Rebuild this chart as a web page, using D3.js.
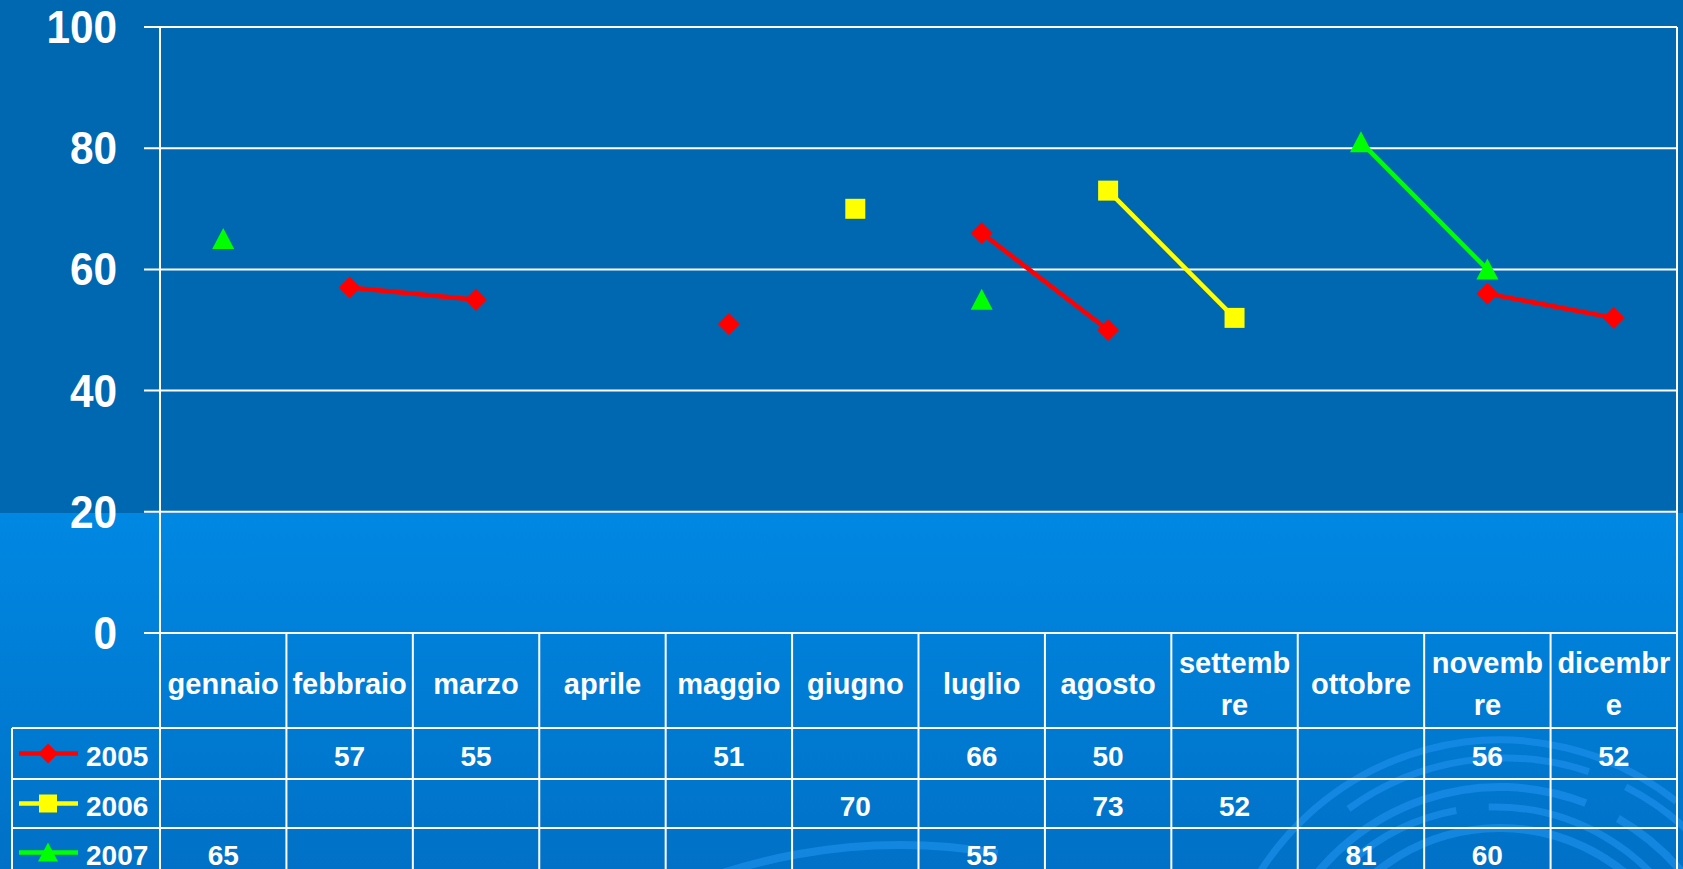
<!DOCTYPE html>
<html lang="it">
<head>
  <meta charset="UTF-8">
  <title>Grafico 2005-2007</title>
  <script src="https://cdn.jsdelivr.net/npm/d3@7"></script>
  <style>
    html, body { margin: 0; padding: 0; overflow: hidden; background: #0066b0; }
    text { font-family: "Liberation Sans", Arial, sans-serif; font-weight: bold; fill: #fff; }
  </style>
</head>
<body>
  <svg class="svg"></svg>
  <script>
    // data
    const months = ['gennaio', 'febbraio', 'marzo', 'aprile', 'maggio', 'giugno',
                    'luglio', 'agosto', 'settembre', 'ottobre', 'novembre', 'dicembre'];
    const monthLines = [['gennaio'], ['febbraio'], ['marzo'], ['aprile'], ['maggio'], ['giugno'],
                        ['luglio'], ['agosto'], ['settemb', 're'], ['ottobre'], ['novemb', 're'], ['dicembr', 'e']];
    const years = ['2005', '2006', '2007'];
    const v2005 = [null, 57, 55, null, 51, null, 66, 50, null, null, 56, 52];
    const v2006 = [null, null, null, null, null, 70, null, 73, 52, null, null, null];
    const v2007 = [65, null, null, null, null, null, 55, null, null, 81, 60, null];
    const yTicks = [0, 20, 40, 60, 80, 100];

    const seriesColors = ['#ff0000', '#ffff00', '#00ff00'];
    const seriesShapes = ['diamond', 'square', 'triangle'];

    const w = 1683;
    const h = 869;
    const plotL = 160, plotR = 1677, plotT = 27, plotB = 633;
    const rowEdges = [633, 728, 779, 828, 877];
    const legendL = 12;

    const svg = d3.select('.svg')
      .attr('width', w)
      .attr('height', h);

    // background: darker band on top, lighter lower part
    const defs = svg.append('defs');
    const grad = defs.append('linearGradient')
      .attr('id', 'lower').attr('x1', 0).attr('y1', 0).attr('x2', 0).attr('y2', 1);
    grad.append('stop').attr('offset', '0%').attr('stop-color', '#0088e3');
    grad.append('stop').attr('offset', '100%').attr('stop-color', '#0071c6');

    svg.append('rect').attr('width', w).attr('height', 513).attr('fill', '#0067b1');
    svg.append('rect').attr('y', 513).attr('width', w).attr('height', h - 513).attr('fill', 'url(#lower)');

    // swirl decoration, bottom right
    const swirl = svg.append('g').attr('fill', 'none').attr('stroke', '#1b8fea').attr('stroke-opacity', 0.7);
    const arcs = [
      [1500, 1024, 284, -2.75, -0.9, 7],
      [1500, 1024, 284, -0.8, -0.25, 7],
      [1505, 1024, 266, -2.2, -1.25, 7],
      [1505, 1024, 266, -1.1, -0.4, 7],
      [1500, 1024, 237, -2.6, -1.2, 8],
      [1500, 1024, 237, -1.05, -0.35, 8],
      [1495, 1024, 217, -2.3, -1.75, 7],
      [1495, 1024, 217, -1.6, -0.5, 7],
      [1500, 1024, 196, -2.7, -0.6, 8],
      [900, 1420, 575, -2.1, -1.4, 8]
    ];
    arcs.forEach(([cx, cy, r, a0, a1, sw]) => {
      const p = d3.path();
      p.arc(cx, cy, r, a0, a1);
      swirl.append('path').attr('d', p.toString()).attr('stroke-width', sw);
    });

    const xScale = d3.scaleBand().domain(months).range([plotL, plotR]);
    const yScale = d3.scaleLinear().domain([0, 100]).range([plotB, plotT]);

    // gridlines + ticks
    svg.append('g').selectAll('line')
      .data(yTicks)
      .enter()
      .append('line')
      .attr('x1', plotL - 16).attr('x2', plotR)
      .attr('y1', (d) => yScale(d)).attr('y2', (d) => yScale(d))
      .attr('stroke', '#fff').attr('stroke-width', 2);

    svg.append('g').selectAll('text')
      .data(yTicks)
      .enter()
      .append('text')
      .attr('transform', (d) => 'translate(117,' + (yScale(d) + 16) + ') scale(0.9,1)')
      .attr('text-anchor', 'end')
      .attr('font-size', 47)
      .text((d) => d);

    // vertical borders
    svg.append('line').attr('x1', plotL).attr('x2', plotL).attr('y1', plotT).attr('y2', h)
      .attr('stroke', '#fff').attr('stroke-width', 2);
    svg.append('line').attr('x1', plotR).attr('x2', plotR).attr('y1', plotT).attr('y2', h)
      .attr('stroke', '#fff').attr('stroke-width', 2);

    // data table grid
    const table = svg.append('g').attr('stroke', '#fff').attr('stroke-width', 2);
    table.selectAll('.col')
      .data(months.slice(1))
      .enter()
      .append('line')
      .attr('x1', (d) => xScale(d)).attr('x2', (d) => xScale(d))
      .attr('y1', plotB).attr('y2', h);
    table.selectAll('.row')
      .data(rowEdges.slice(1, 4))
      .enter()
      .append('line')
      .attr('x1', legendL).attr('x2', plotR)
      .attr('y1', (d) => d).attr('y2', (d) => d);
    table.append('line').attr('x1', legendL).attr('x2', legendL)
      .attr('y1', rowEdges[1]).attr('y2', h);

    // month labels
    const headMid = (rowEdges[0] + rowEdges[1]) / 2;
    const cats = svg.append('g').selectAll('text')
      .data(monthLines)
      .enter()
      .append('text')
      .attr('text-anchor', 'middle')
      .attr('font-size', 29);
    cats.selectAll('tspan')
      .data((d, i) => d.map((s, j) => ({ s, j, n: d.length, m: months[i] })))
      .enter()
      .append('tspan')
      .attr('x', (d) => xScale(d.m) + xScale.bandwidth() / 2)
      .attr('y', (d) => headMid + 13 + (d.n === 1 ? 0 : (d.j === 0 ? -21 : 21)))
      .text((d) => d.s);

    function marker(shape, s) {
      if (shape === 'diamond') return `M0,${-s}L${s},0L0,${s}L${-s},0Z`;
      if (shape === 'square') return `M${-s + 1},${-s + 1}H${s - 1}V${s - 1}H${-s + 1}Z`;
      return `M0,${-s}L${s},${s - 1}L${-s},${s - 1}Z`;
    }

    const seriesValues = [v2005, v2006, v2007];
    const line = d3.line()
      .defined((d) => d.v !== null)
      .x((d) => xScale(d.m) + xScale.bandwidth() / 2)
      .y((d) => yScale(d.v));

    seriesValues.forEach((vals, k) => {
      const pts = vals.map((v, i) => ({ v, m: months[i] }));
      const g = svg.append('g');
      g.append('path')
        .attr('d', line(pts))
        .attr('fill', 'none')
        .attr('stroke', seriesColors[k])
        .attr('stroke-width', 4.5);
      g.selectAll('path.mk')
        .data(pts.filter((d) => d.v !== null))
        .enter()
        .append('path')
        .attr('class', 'mk')
        .attr('transform', (d) => 'translate(' + (xScale(d.m) + xScale.bandwidth() / 2) + ',' + yScale(d.v) + ')')
        .attr('d', marker(seriesShapes[k], 11))
        .attr('fill', seriesColors[k]);

      // table row
      const rowMid = (rowEdges[k + 1] + rowEdges[k + 2]) / 2;
      svg.append('g').selectAll('text')
        .data(pts.filter((d) => d.v !== null))
        .enter()
        .append('text')
        .attr('x', (d) => xScale(d.m) + xScale.bandwidth() / 2)
        .attr('y', rowMid + 12)
        .attr('text-anchor', 'middle')
        .attr('font-size', 28)
        .text((d) => d.v);

      // legend key
      const lg = svg.append('g').attr('transform', 'translate(0,' + rowMid + ')');
      lg.append('line').attr('x1', 19).attr('x2', 78).attr('y1', 0).attr('y2', 0)
        .attr('stroke', seriesColors[k]).attr('stroke-width', 4.5);
      lg.append('path').attr('transform', 'translate(48,0)')
        .attr('d', marker(seriesShapes[k], 10))
        .attr('fill', seriesColors[k]);
      lg.append('text').attr('x', 86).attr('y', 12).attr('font-size', 28).text(years[k]);
    });
  </script>
</body>
</html>
